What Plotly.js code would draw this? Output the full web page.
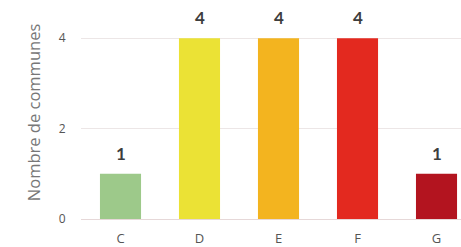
<!DOCTYPE html>
<html><head><meta charset="utf-8">
<script src="https://cdn.plot.ly/plotly-3.0.1.min.js"></script>
<style>html,body{margin:0;padding:0;background:#fff}#chart{width:461px;height:247px}</style>
</head><body><div id="chart"></div>
<script>
const categories = ["C", "D", "E", "F", "G"];
const values = [1, 4, 4, 4, 1];
const colors = ["#9dc98a", "#ebe235", "#f3b41f", "#e3291f", "#b3141f"];
const yTicks = [0, 2, 4];
const yTitle = "Nombre de communes";

const font = "'Open Sans', Lato, sans-serif";
const data = [{
  type: "bar", x: categories, y: values,
  marker: {color: colors}, width: 0.52, hoverinfo: "none"
}];
const annotations = categories.map((c, i) => ({
  x: c, y: values[i], text: "<b>" + values[i] + "</b>", showarrow: false,
  yanchor: "bottom", yshift: 8, font: {family: "Lato, sans-serif", size: 17, color: "#3d3d3d"}
}));
annotations.push({
  xref: "paper", yref: "paper", x: -0.126, y: 0.566, xanchor: "center", yanchor: "middle",
  text: yTitle, textangle: -90, showarrow: false,
  font: {size: 16.5, color: "#777", family: font}
});
const layout = {
  width: 461, height: 247,
  margin: {l: 81, r: 0, t: 30, b: 28},
  paper_bgcolor: "#fff", plot_bgcolor: "#fff",
  showlegend: false,
  font: {family: font, color: "#555"},
  xaxis: {
    range: [-0.5, 4.31], showgrid: false, zeroline: false, showline: false,
    ticks: "outside", ticklen: 7, tickcolor: "rgba(0,0,0,0)",
    tickfont: {size: 13, color: "#555", family: font}
  },
  yaxis: {
    range: [0, 4.18], tickvals: yTicks, ticktext: yTicks.map(String),
    showgrid: true, gridcolor: "#ece6e6", gridwidth: 1,
    zeroline: true, zerolinecolor: "#e6d8d8", zerolinewidth: 1, showline: false,
    ticks: "outside", ticklen: 12, tickcolor: "rgba(0,0,0,0)",
    tickfont: {size: 12, color: "#555", family: font}
  },
  annotations: annotations
};
Plotly.newPlot("chart", data, layout, {staticPlot: true, displayModeBar: false});
</script></body></html>
